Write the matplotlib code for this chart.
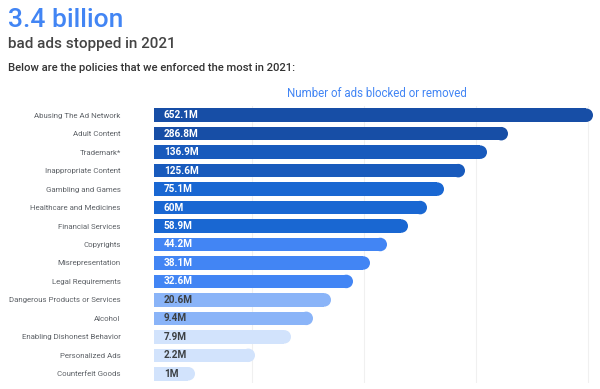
import matplotlib.pyplot as plt
from matplotlib.patches import Ellipse

plt.rcParams['font.family'] = ['Roboto', 'DejaVu Sans']

# policies, top to bottom
policies = ["Abusing The Ad Network", "Adult Content", "Trademark*",
            "Inappropriate Content", "Gambling and Games",
            "Healthcare and Medicines", "Financial Services", "Copyrights",
            "Misrepresentation", "Legal Requirements",
            "Dangerous Products or Services", "Alcohol",
            "Enabling Dishonest Behavior", "Personalized Ads",
            "Counterfeit Goods"]
value_labels = ["652.1M", "286.8M", "136.9M", "125.6M", "75.1M", "60M",
                "58.9M", "44.2M", "38.1M", "32.6M", "20.6M", "9.4M",
                "7.9M", "2.2M", "1M"]
# bar lengths as drawn in the original (ranked, not to scale)
bar_len = [439, 354, 333, 311, 290, 273, 254, 233, 216, 199, 177, 159,
           137, 101, 41]
colors = ["#174EA6", "#174EA6", "#185ABC", "#185ABC", "#1967D2", "#1967D2",
          "#1967D2", "#4285F4", "#4285F4", "#4285F4", "#8AB4F8", "#8AB4F8",
          "#D2E3FC", "#D2E3FC", "#D2E3FC"]
text_colors = ["white"] * 10 + ["#3c4043"] * 5
grid_x = [98, 210, 322, 434]

fig = plt.figure(figsize=(6, 3.89), dpi=100)
W, H = 600, 389

# axes in pixel-like units: left edge at 154 px
left, right = 154, 597
top, bottom = 106, 383
ax = fig.add_axes([left / W, 1 - bottom / H, (right - left) / W, (bottom - top) / H])

n = len(policies)
ys = list(range(n))
bh = 0.73
row_px = (bottom - top) / n
r_px = bh * row_px / 2

for y, L, c in zip(ys, bar_len, colors):
    ax.barh(y, L - r_px, height=bh, color=c, left=0, zorder=2)
    ax.add_patch(Ellipse((L - r_px, y), 2 * r_px, bh, color=c, lw=0, zorder=2))

for y, lab, tc in zip(ys, value_labels, text_colors):
    ax.text(10, y, lab, color=tc, fontsize=7.2, fontweight='bold',
            va='center', ha='left', zorder=3)

ax.set_xlim(0, right - left)
ax.set_ylim(n - 0.5, -0.5)
ax.set_xticks(grid_x)
ax.set_xticklabels([])
ax.grid(axis='x', color='#f0f0f0', lw=0.8, zorder=0)
ax.set_yticks(ys)
ax.set_yticklabels(policies, fontsize=5.7, color='#5f6368')
ax.tick_params(length=0, pad=24)
for s in ax.spines.values():
    s.set_visible(False)

fig.text(8 / W, 1 - 27 / H, "3.4 billion", fontsize=19, color="#4285F4",
         fontweight='medium', ha='left', va='baseline')
fig.text(8 / W, 1 - 48 / H, "bad ads stopped in 2021", fontsize=11,
         color="#444444", fontweight='medium', ha='left', va='baseline')
fig.text(8 / W, 1 - 71 / H, "Below are the policies that we enforced the most in 2021:",
         fontsize=8.1, color="#333333", fontweight='medium', ha='left', va='baseline')
fig.text(287 / W, 1 - 97 / H, "Number of ads blocked or removed", fontsize=8.3,
         color="#4285F4", ha='left', va='baseline')

fig.savefig("out.png", dpi=100)
